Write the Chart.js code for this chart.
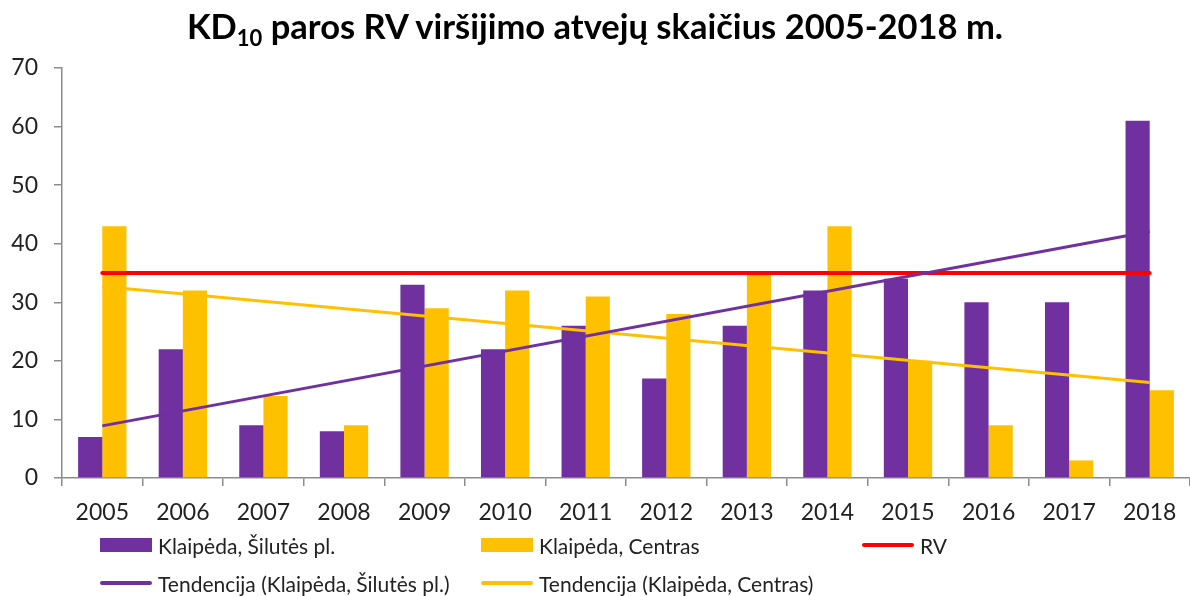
<!DOCTYPE html>
<html>
<head>
<meta charset="utf-8">
<script src="https://cdn.jsdelivr.net/npm/chart.js@4"></script>
<style>
  body { margin: 0; background: #fff; font-family: Lato, "Open Sans", sans-serif; }
  #wrap { position: relative; width: 1190px; height: 596px; }
  #chart { position: absolute; left: 0; top: 0; }
  #title { position: absolute; left: 0; width: 1190px; top: 5px; text-align: center;
           font-weight: bold; font-size: 34.5px; color: #000; }
  #title sub { font-size: 22px; vertical-align: -7px; line-height: 0; }
  .lg { position: absolute; display: flex; align-items: center; font-size: 21px; color: #222; }
  .sw { width: 52px; margin-right: 6px; }
  .box { height: 14px; }
  .ln { height: 4px; border-radius: 2px; }
</style>
</head>
<body>
<div id="wrap">
  <canvas id="chart" width="1190" height="596"></canvas>
  <div id="title">KD<sub>10</sub> paros RV viršijimo atvejų skaičius 2005-2018 m.</div>
  <div id="legend"></div>
</div>
<script>
const years = ['2005','2006','2007','2008','2009','2010','2011','2012','2013','2014','2015','2016','2017','2018'];
const silutes = [7, 22, 9, 8, 33, 22, 26, 17, 26, 32, 34, 30, 30, 61];
const centras = [43, 32, 14, 9, 29, 32, 31, 28, 35, 43, 20, 9, 3, 15];
const rv = [35, 35, 35, 35, 35, 35, 35, 35, 35, 35, 35, 35, 35, 35];
// trend lines: only the ends, the line joins them
const trendSilutes = [8.9, null, null, null, null, null, null, null, null, null, null, null, null, 42.1];
const trendCentras = [32.7, null, null, null, null, null, null, null, null, null, null, null, null, 16.3];
const yTicks = [0, 10, 20, 30, 40, 50, 60, 70];

const PURPLE = '#7030A0', YELLOW = '#FFC000', RED = '#FF0000';

const legendItems = [
  { label: 'Klaipėda, Šilutės pl.', color: PURPLE, kind: 'box', x: 100, y: 545 },
  { label: 'Klaipėda, Centras', color: YELLOW, kind: 'box', x: 481, y: 545 },
  { label: 'RV', color: RED, kind: 'ln', x: 862, y: 545 },
  { label: 'Tendencija (Klaipėda, Šilutės pl.)', color: PURPLE, kind: 'ln', x: 100, y: 583 },
  { label: 'Tendencija (Klaipėda, Centras)', color: YELLOW, kind: 'ln', x: 481, y: 583 }
];
const legendEl = document.getElementById('legend');
legendItems.forEach(it => {
  const d = document.createElement('div');
  d.className = 'lg';
  d.style.left = it.x + 'px';
  d.style.top = (it.y - 13) + 'px';
  d.style.height = '26px';
  d.innerHTML = '<span class="sw ' + it.kind + '" style="background:' + it.color + '"></span><span>' + it.label + '</span>';
  legendEl.appendChild(d);
});

const tickFont = { family: 'Lato, "Open Sans", sans-serif', size: 23 };

new Chart(document.getElementById('chart'), {
  type: 'bar',
  data: {
    labels: years,
    datasets: [
      { type: 'line', label: 'Tendencija (Klaipėda, Šilutės pl.)', data: trendSilutes, borderColor: PURPLE,
        borderWidth: 3, pointRadius: 0, spanGaps: true, order: 0 },
      { type: 'line', label: 'Tendencija (Klaipėda, Centras)', data: trendCentras, borderColor: YELLOW,
        borderWidth: 3, pointRadius: 0, spanGaps: true, order: 0.5 },
      { type: 'line', label: 'RV', data: rv, borderColor: RED, borderWidth: 4, borderCapStyle: 'round',
        pointRadius: 0, order: 1 },
      { label: 'Klaipėda, Šilutės pl.', data: silutes, backgroundColor: PURPLE, order: 2,
        barPercentage: 1, categoryPercentage: 0.6 },
      { label: 'Klaipėda, Centras', data: centras, backgroundColor: YELLOW, order: 2,
        barPercentage: 1, categoryPercentage: 0.6 }
    ]
  },
  options: {
    responsive: false,
    animation: false,
    layout: { padding: { top: 68, bottom: 68, left: 0, right: 0 } },
    plugins: { legend: { display: false }, title: { display: false }, tooltip: { enabled: false } },
    scales: {
      x: {
        afterFit: s => { s.height = 50; },
        border: { color: '#8c8c8c', width: 1.5 },
        grid: { drawOnChartArea: false, tickLength: 8, color: '#8c8c8c', lineWidth: 1.5 },
        ticks: { color: '#222', font: tickFont, padding: 13, maxRotation: 0 }
      },
      y: {
        min: 0, max: 70,
        afterFit: s => { s.width = 62; },
        afterBuildTicks: s => { s.ticks = yTicks.map(v => ({ value: v })); },
        border: { color: '#8c8c8c', width: 1.5 },
        grid: { drawOnChartArea: false, tickLength: 8, color: '#8c8c8c', lineWidth: 1.5 },
        ticks: { color: '#222', font: tickFont, padding: 16 }
      }
    }
  }
});
</script>
</body>
</html>
